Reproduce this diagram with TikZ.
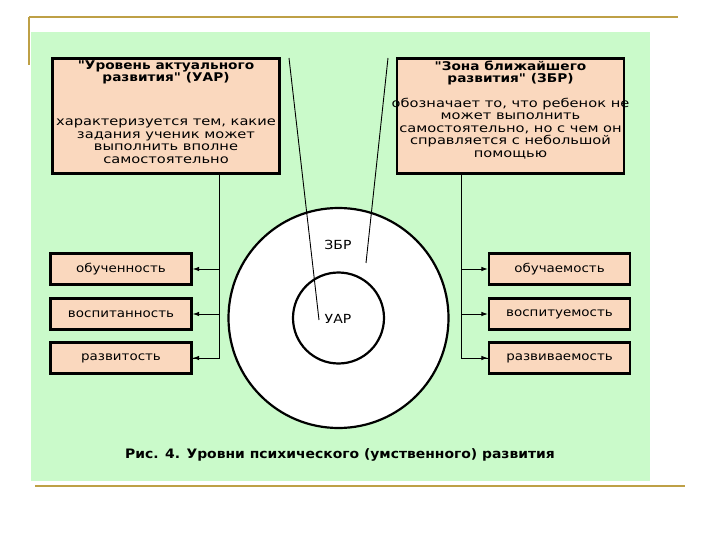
\documentclass[tikz,border=0pt]{standalone}
\usepackage{fontspec}
\setmainfont{DejaVu Sans}
\newfontfamily\bodyf[FakeStretch=1.22]{DejaVu Sans}
\newfontfamily\titlef[FakeStretch=1.14]{DejaVu Sans}
\newfontfamily\smallf[FakeStretch=1.12]{DejaVu Sans}
\newfontfamily\capf[FakeStretch=1.07]{DejaVu Sans}
\usetikzlibrary{arrows.meta}
\definecolor{bggreen}{RGB}{202,250,202}
\definecolor{peach}{RGB}{250,216,190}
\definecolor{gold}{RGB}{190,160,70}
\tikzset{
  bigbox/.style={draw=black, line width=2.4pt, fill=peach, minimum width=227pt, minimum height=115pt, inner sep=0pt},
  smallbox/.style={draw=black, line width=2.2pt, fill=peach, minimum width=141pt, minimum height=31pt, inner sep=0pt, font=\smallf\fontsize{12}{13}\selectfont},
  titletext/.style={align=center, font=\titlef\bfseries\fontsize{12}{12}\selectfont, inner sep=0pt},
  bodytext/.style={align=center, font=\bodyf\fontsize{12}{12.5}\selectfont, inner sep=0pt},
  circtext/.style={font=\smallf\fontsize{12.5}{13}\selectfont, inner sep=0pt},
  conn/.style={line width=0.9pt, black},
  arr/.style={conn, -{Latex[length=6.5pt,width=4.5pt]}},
  goldline/.style={draw=gold, line width=2pt},
}
\begin{document}
\begin{tikzpicture}[x=1pt,y=-1pt]
\useasboundingbox (0,0) rectangle (720,540);
\fill[white] (0,0) rectangle (720,540);
% slide decoration
\fill[bggreen] (31,32) rectangle (650,481);
\draw[goldline] (29,17) -- (678,17);
\draw[goldline] (29,17) -- (29,65);
\draw[goldline] (35,486) -- (685,486);
% circles
\node[draw=black, line width=2.2pt, fill=white, circle, minimum size=220pt, inner sep=0pt] (outer) at (338.5,318) {};
\node[draw=black, line width=2.2pt, fill=white, circle, minimum size=91pt, inner sep=0pt] (inner) at (338.5,318) {};
\node[circtext] (zbr) at (338,245) {ЗБР};
\node[circtext] (uar) at (338,319) {УАР};
% top boxes
\node[bigbox] (lbox) at (166,116) {};
\node[bigbox] (rbox) at (510.5,116) {};
\node[titletext] (lt1) at (166,72.5) {"Уровень актуального\\развития" (УАР)};
\node[bodytext] (lb1) at (166,141) {характеризуется тем, какие\\задания ученик может\\выполнить вполне\\самостоятельно};
\node[titletext] (rt1) at (510.5,72.5) {"Зона ближайшего\\развития" (ЗБР)};
\node[bodytext] (rb1) at (510.5,128.5) {обозначает то, что ребенок не\\может выполнить\\самостоятельно, но с чем он\\справляется с небольшой\\помощью};
% pointer lines
\coordinate (lp1) at (289,58);
\coordinate (lp2) at (319,320);
\coordinate (rp1) at (388,58);
\coordinate (rp2) at (366,263);
\draw[conn] (lp1) -- (lp2);
\draw[conn] (rp1) -- (rp2);
% small boxes
\node[smallbox] (o1) at (121,269) {обученность};
\node[smallbox] (o2) at (121,314) {воспитанность};
\node[smallbox] (o3) at (121,358) {развитость};
\node[smallbox] (p1) at (559.5,269) {обучаемость};
\node[smallbox] (p2) at (559.5,314) {воспитуемость};
\node[smallbox] (p3) at (559.5,358) {развиваемость};
% connectors
\coordinate (lj) at (219,174);
\coordinate (rj) at (461,174);
\draw[conn] (lj) |- (o3.east);
\draw[arr] (lj |- o3.east) -- (o3.east);
\draw[arr] (lj |- o2.east) -- (o2.east);
\draw[arr] (lj |- o1.east) -- (o1.east);
\draw[conn] (rj) |- (p3.west);
\draw[arr] (rj |- p3.west) -- (p3.west);
\draw[arr] (rj |- p2.west) -- (p2.west);
\draw[arr] (rj |- p1.west) -- (p1.west);
% caption
\node[font=\capf\bfseries\fontsize{13}{15}\selectfont, inner sep=0pt] (cap) at (340,455) {Рис. 4. Уровни психического (умственного) развития};
\end{tikzpicture}
\end{document}
